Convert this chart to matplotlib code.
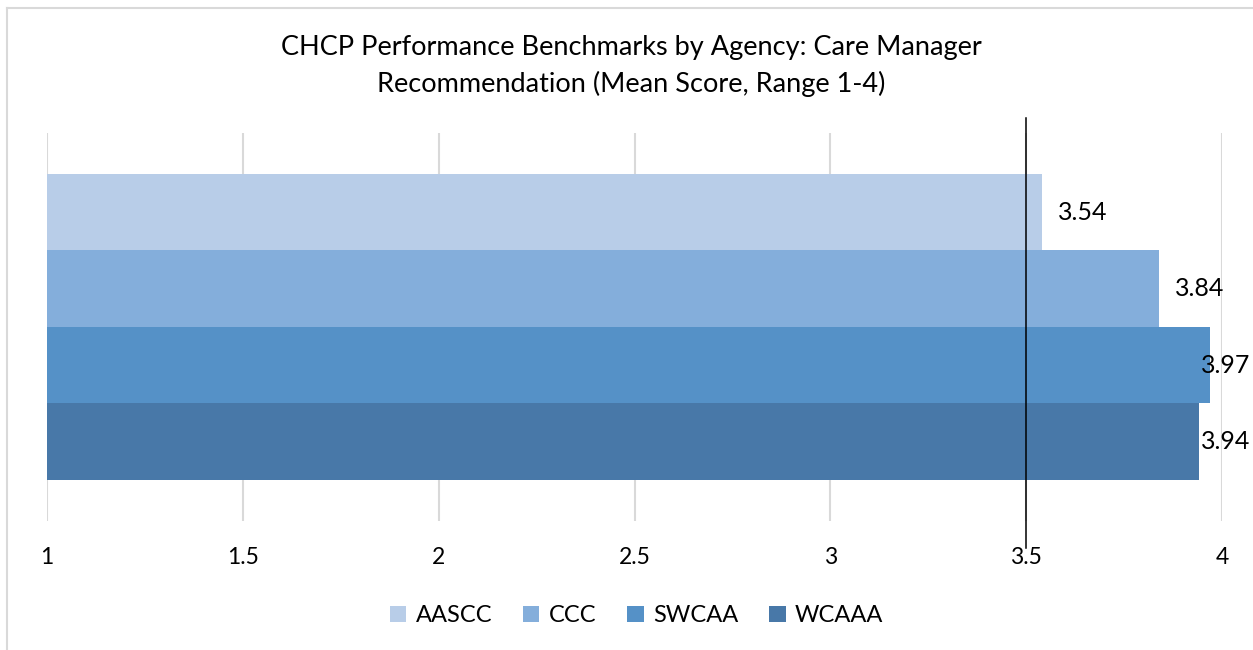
import numpy as np
import matplotlib
matplotlib.use('Agg')
import matplotlib.pyplot as plt
from matplotlib.lines import Line2D
import matplotlib.transforms as mtransforms

plt.rcParams['font.family'] = ['Lato', 'DejaVu Sans']

# data
agencies = ['AASCC', 'CCC', 'SWCAA', 'WCAAA']
scores = [3.54, 3.84, 3.97, 3.94]
benchmark = 3.5
colors = ['#B8CDE8', '#84AEDB', '#5591C7', '#4878A8']
xticks = [1, 1.5, 2, 2.5, 3, 3.5, 4]

fig = plt.figure(figsize=(12.53, 6.5), dpi=100)
ax = fig.add_axes([0.0375, 0.1985, 0.9378, 0.5969])

ypos = np.arange(len(agencies))[::-1]
for i in range(len(agencies)):
    ax.barh(ypos[i], scores[i] - 1, left=1, height=1.0, color=colors[i],
            label=agencies[i], zorder=2)
    # excel pushes labels inside the plot area when they run out
    lx = min(scores[i] + 0.04, 3.946)
    ax.text(lx, ypos[i], '%.2f' % scores[i], ha='left', va='center',
            fontsize=18, color='black', zorder=4)

ax.set_xlim(1, 4)
ax.set_ylim(-1.036, 4.036)
ax.set_xticks(xticks)
ax.set_xticklabels(['%g' % t for t in xticks], fontsize=16.5)
ax.set_yticks([])
ax.tick_params(axis='x', length=0, pad=19)
ax.grid(axis='x', color='#D9D9D9', linewidth=1.5, zorder=0)
for s in ax.spines.values():
    s.set_visible(False)

# benchmark line
trans = mtransforms.blended_transform_factory(ax.transData, ax.transAxes)
ax.plot([benchmark, benchmark], [-0.07, 1.039], color='black', linewidth=1.1,
        transform=trans, clip_on=False, zorder=5)

fig.text(0.504, 0.898, 'CHCP Performance Benchmarks by Agency: Care Manager\nRecommendation (Mean Score, Range 1-4)',
         ha='center', va='center', fontsize=19.5, linespacing=1.5)

ax.legend(loc='center', bbox_to_anchor=(0.508, 0.053), bbox_transform=fig.transFigure,
          ncol=4, frameon=False, fontsize=17, handlelength=0.7, handleheight=0.7,
          handletextpad=0.4, columnspacing=1.3)

# chart border (only top and left visible)
fig.add_artist(Line2D([0.0056, 1], [0.9877, 0.9877], color='#D9D9D9', linewidth=1.5))
fig.add_artist(Line2D([0.0056, 0.0056], [0, 0.9877], color='#D9D9D9', linewidth=1.5))

fig.savefig('out.png', dpi=100)
